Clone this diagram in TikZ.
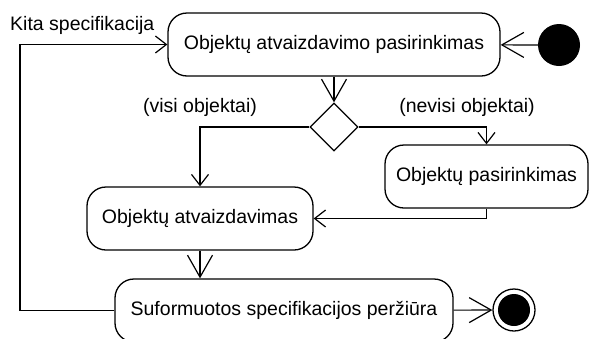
\documentclass[tikz,border=0pt]{standalone}
\usepackage{fontspec}
\setmainfont{Liberation Sans}
\usetikzlibrary{arrows.meta,shapes.geometric}
\begin{document}
\begin{tikzpicture}[x=1pt,y=-1pt,
  every node/.style={font=\fontsize{19.5}{23}\selectfont},
  action/.style={draw,line width=1.3pt,rounded corners=19pt,minimum height=63pt,inner sep=0pt},
  choice/.style={draw,diamond,line width=1.3pt,minimum width=48pt,minimum height=48pt,inner sep=0pt},
  startdot/.style={circle,fill=black,minimum size=42pt,inner sep=0pt},
  enddot/.style={circle,draw,line width=1.3pt,minimum size=42pt,inner sep=0pt,
    path picture={\fill[black] (path picture bounding box.center) circle (16pt);}},
  flow/.style={line width=1.2pt,-{Straight Barb[length=22pt,width=25pt,line width=1.2pt]}},
  flowshort/.style={line width=1.2pt,-{Straight Barb[length=11pt,width=17pt,line width=1.2pt]}},
  lbl/.style={inner sep=0pt}]
\useasboundingbox (0,0) rectangle (589,338);

% activity nodes
\node[action,minimum width=332pt] (sel) at (334,44.5) {Objektų atvaizdavimo pasirinkimas};
\node[choice] (dec) at (334,127) {};
\node[action,minimum width=203pt] (pick) at (486.5,176.5) {Objektų pasirinkimas};
\node[action,minimum width=226pt] (show) at (200,218.5) {Objektų atvaizdavimas};
\node[action,minimum width=338pt] (rev) at (284,310.5) {Suformuotos specifikacijos peržiūra};

% initial and final states
\node[startdot] (init) at (559,45) {};
\node[enddot] (fin) at (514,310) {};

% guard and loop labels
\node[lbl] (gall) at (200,107) {(visi objektai)};
\node[lbl] (gsome) at (467,107) {(nevisi objektai)};
\node[lbl,anchor=west] (loop) at (10,25) {Kita specifikacija};

% transitions
\draw[flow] (init) -- (sel);
\draw[flow] (sel) -- (dec);
\draw[flowshort] (dec.west) -| (show.north);
\draw[flowshort] (dec.east) -| (pick.north);
\draw[flowshort] (pick.south) |- (show.east);
\draw[flow] (show.south) -- (show.south |- rev.north);
\draw[flow] (rev) -- (fin);
\coordinate (back) at (20,310.5);
\draw[flowshort] (rev.west) -- (back) |- (sel.west);
\end{tikzpicture}
\end{document}
